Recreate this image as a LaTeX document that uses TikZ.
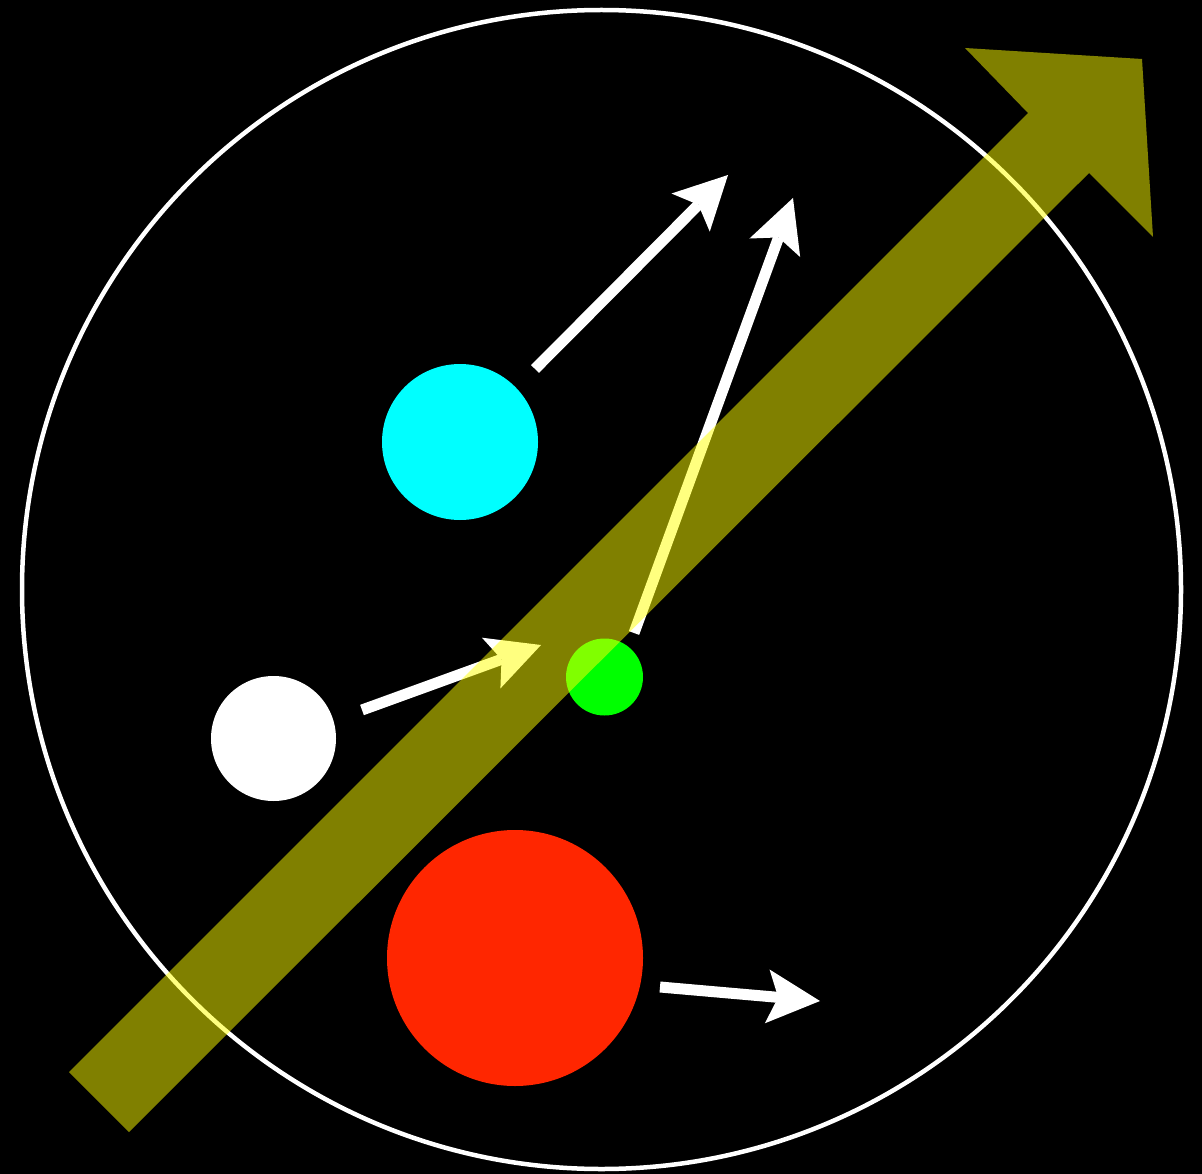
\documentclass[tikz,border=0pt]{standalone}
\usetikzlibrary{arrows.meta}
\definecolor{cyanc}{RGB}{0,255,255}
\definecolor{redc}{RGB}{255,38,0}
\definecolor{limec}{RGB}{0,255,0}
\definecolor{bigyellow}{RGB}{255,255,0}
\tikzset{
  ball/.style={circle, inner sep=0pt, outer sep=0pt, minimum size=#1},
  whitearrow/.style={draw=white, line width=11pt,
    -{Stealth[length=53pt,width=54pt,inset=11pt,line width=0pt]}},
  bigarrow/.style={fill=bigyellow, fill opacity=0.5},
}
\begin{document}
\begin{tikzpicture}[x=1pt,y=-1pt]
\fill[black] (0,0) rectangle (1202,1174);
\useasboundingbox (0,0) rectangle (1202,1174);
% outer ring
\node[draw=white, line width=4.5pt, circle, inner sep=0pt, minimum size=1159pt] (ring) at (601.5,589.5) {};
% balls
\node[ball=156pt, fill=cyanc] (cyanball) at (460,442) {};
\node[ball=125pt, fill=white] (whiteball) at (273.5,738.5) {};
\node[ball=77pt, fill=limec] (greenball) at (604.5,677) {};
\node[ball=256pt, fill=redc] (redball) at (515,958) {};
% arrow endpoints
\coordinate (a1s) at (535,369); \coordinate (a1t) at (728,175);
\coordinate (a2s) at (634,633); \coordinate (a2t) at (793,198);
\coordinate (a3s) at (362,710); \coordinate (a3t) at (541,645);
\coordinate (a4s) at (660,987); \coordinate (a4t) at (820,1001);
\draw[whitearrow] (a1s) -- (a1t);
\draw[whitearrow] (a2s) -- (a2t);
\draw[whitearrow] (a3s) -- (a3t);
\draw[whitearrow] (a4s) -- (a4t);
% big translucent arrow
\fill[bigarrow] (69,1072) -- (1028,113) -- (965,48) -- (1142,59) -- (1153,237) -- (1089,173) -- (129,1132) -- cycle;
\end{tikzpicture}
\end{document}
